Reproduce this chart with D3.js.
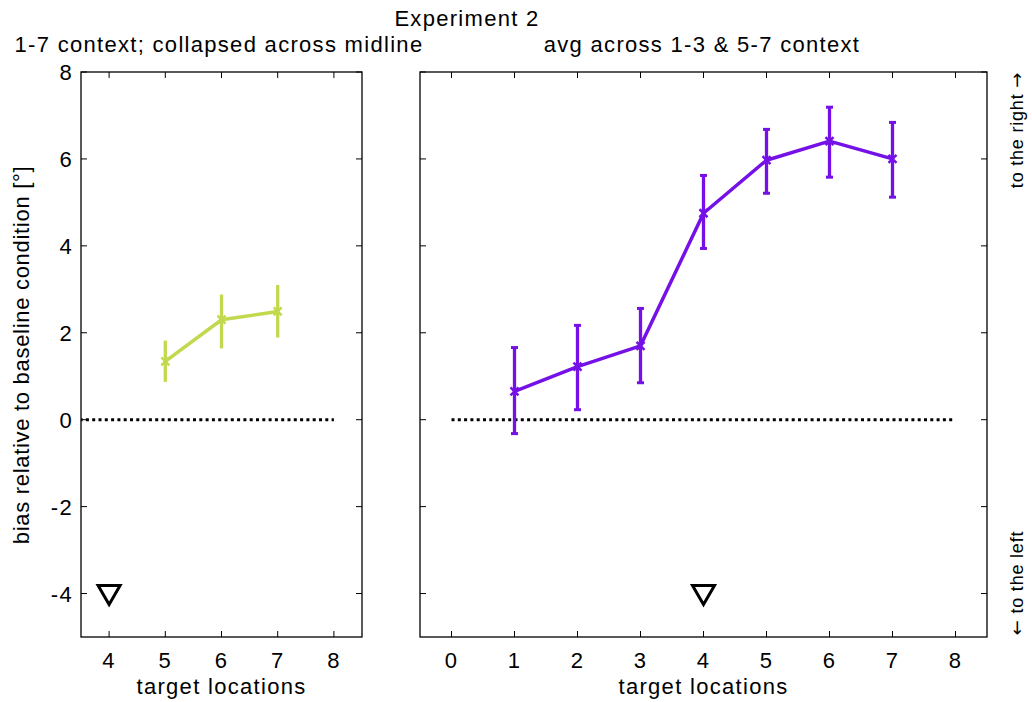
<!DOCTYPE html>
<html>
<head>
<meta charset="utf-8">
<script src="https://cdn.jsdelivr.net/npm/d3@7"></script>
<style>
body{margin:0;background:#fff;}
text{font-family:"Liberation Sans",Arial,sans-serif;fill:#000;font-size:22px;letter-spacing:1.3px;}
.arrow{font-family:"DejaVu Sans",sans-serif;}
</style>
</head>
<body>
<svg id="chart" width="1032" height="702"></svg>
<script>
// data ---------------------------------------
var leftX=[5,6,7];
var leftMean=[1.34,2.30,2.49];
var leftLo=[0.87,1.64,1.89];
var leftHi=[1.82,2.88,3.10];

var rightX=[1,2,3,4,5,6,7];
var rightMean=[0.65,1.22,1.70,4.75,5.97,6.41,6.00];
var rightLo=[-0.32,0.23,0.85,3.94,5.21,5.58,5.12];
var rightHi=[1.66,2.17,2.56,5.62,6.68,7.19,6.84];

var leftTicks=[4,5,6,7,8];
var rightTicks=[0,1,2,3,4,5,6,7,8];
var yTicks=[-4,-2,0,2,4,6,8];
var midline=[0,8];
var fixation={x:4,y:-4};

var green='#c2d94f';
var purple='#7511e6';

var svg=d3.select('#chart');
var plotTop=72,plotBottom=637;
var y=d3.scaleLinear().domain([-5,8]).range([plotBottom,plotTop]);

var panels=[
  {x0:81,x1:362,domain:[3.5,8.5],ticks:leftTicks,xs:leftX,mean:leftMean,lo:leftLo,hi:leftHi,color:green,caps:false,
   title:'1-7 context; collapsed across midline',titleX:219,yLabels:true},
  {x0:420,x1:987,domain:[-0.5,8.5],ticks:rightTicks,xs:rightX,mean:rightMean,lo:rightLo,hi:rightHi,color:purple,caps:true,
   title:'avg across 1-3 & 5-7 context',titleX:702,yLabels:false}
];

panels.forEach(function(p,idx){
  var x=d3.scaleLinear().domain(p.domain).range([p.x0,p.x1]);
  var g=svg.append('g');
  var clipId='clip'+idx;
  svg.append('clipPath').attr('id',clipId).append('rect')
    .attr('x',p.x0).attr('y',plotTop).attr('width',p.x1-p.x0).attr('height',plotBottom-plotTop);

  // ticks (inward, all four sides)
  var tl=6;
  p.ticks.forEach(function(t){
    g.append('line').attr('x1',x(t)).attr('x2',x(t)).attr('y1',plotBottom).attr('y2',plotBottom-tl).attr('stroke','#000');
    g.append('line').attr('x1',x(t)).attr('x2',x(t)).attr('y1',plotTop).attr('y2',plotTop+tl).attr('stroke','#000');
    g.append('text').attr('x',x(t)).attr('y',plotBottom+31).attr('text-anchor','middle').text(t);
  });
  yTicks.forEach(function(t){
    g.append('line').attr('x1',p.x0).attr('x2',p.x0+tl).attr('y1',y(t)).attr('y2',y(t)).attr('stroke','#000');
    g.append('line').attr('x1',p.x1).attr('x2',p.x1-tl).attr('y1',y(t)).attr('y2',y(t)).attr('stroke','#000');
    if(p.yLabels){
      g.append('text').attr('x',p.x0-8).attr('y',y(t)+8).attr('text-anchor','end').text(t);
    }
  });
  // box
  g.append('rect').attr('x',p.x0).attr('y',plotTop).attr('width',p.x1-p.x0).attr('height',plotBottom-plotTop)
    .attr('fill','none').attr('stroke','#000').attr('stroke-width',1.3);

  var inner=g.append('g').attr('clip-path','url(#'+clipId+')');
  // zero line
  inner.append('line').attr('x1',x(midline[0])).attr('x2',x(midline[1])).attr('y1',y(0)).attr('y2',y(0))
    .attr('stroke','#000').attr('stroke-width',3).attr('stroke-dasharray','3,3.3');

  // error bars
  p.xs.forEach(function(v,i){
    inner.append('line').attr('x1',x(v)).attr('x2',x(v)).attr('y1',y(p.lo[i])).attr('y2',y(p.hi[i]))
      .attr('stroke',p.color).attr('stroke-width',3.3);
    if(p.caps){
      [p.lo[i],p.hi[i]].forEach(function(e){
        inner.append('line').attr('x1',x(v)-3.5).attr('x2',x(v)+3.5).attr('y1',y(e)).attr('y2',y(e))
          .attr('stroke',p.color).attr('stroke-width',3);
      });
    }
  });
  // mean line
  var line=d3.line().x(function(d,i){return x(p.xs[i]);}).y(function(d){return y(d);});
  inner.append('path').datum(p.mean).attr('d',line).attr('fill','none')
    .attr('stroke',p.color).attr('stroke-width',3.5).attr('stroke-linejoin','round');
  // x markers
  p.xs.forEach(function(v,i){
    var cx=x(v),cy=y(p.mean[i]),s=4;
    inner.append('path').attr('d','M'+(cx-s)+','+(cy-s)+'L'+(cx+s)+','+(cy+s)+'M'+(cx-s)+','+(cy+s)+'L'+(cx+s)+','+(cy-s))
      .attr('stroke',p.color).attr('stroke-width',2.5);
  });

  // fixation triangle
  var tx=x(fixation.x),ty=y(fixation.y);
  g.append('path').attr('d','M'+(tx-11)+','+(ty-8)+'L'+(tx+11)+','+(ty-8)+'L'+tx+','+(ty+11)+'Z')
    .attr('fill','none').attr('stroke','#000').attr('stroke-width',3);

  // labels
  svg.append('text').attr('x',(p.x0+p.x1)/2).attr('y',plotBottom+57).attr('text-anchor','middle').text('target locations');
  svg.append('text').attr('x',p.titleX).attr('y',52).attr('text-anchor','middle').text(p.title);
});

svg.append('text').attr('x',467).attr('y',26).attr('text-anchor','middle').text('Experiment 2');
svg.append('text').attr('transform','translate(29,355) rotate(-90)').attr('text-anchor','middle')
  .style('letter-spacing','0.7px').text('bias relative to baseline condition [°]');

var rightLbl=svg.append('text').attr('transform','translate(1023,130) rotate(-90)').attr('text-anchor','middle')
  .style('font-size','18px').style('letter-spacing','0.8px');
rightLbl.append('tspan').text('to the right   ');
rightLbl.append('tspan').attr('class','arrow').text('\u2192');

var leftLbl=svg.append('text').attr('transform','translate(1023,583) rotate(-90)').attr('text-anchor','middle')
  .style('font-size','18px').style('letter-spacing','0.8px');
leftLbl.append('tspan').attr('class','arrow').text('\u2190');
leftLbl.append('tspan').text('   to the left');
</script>
</body>
</html>
